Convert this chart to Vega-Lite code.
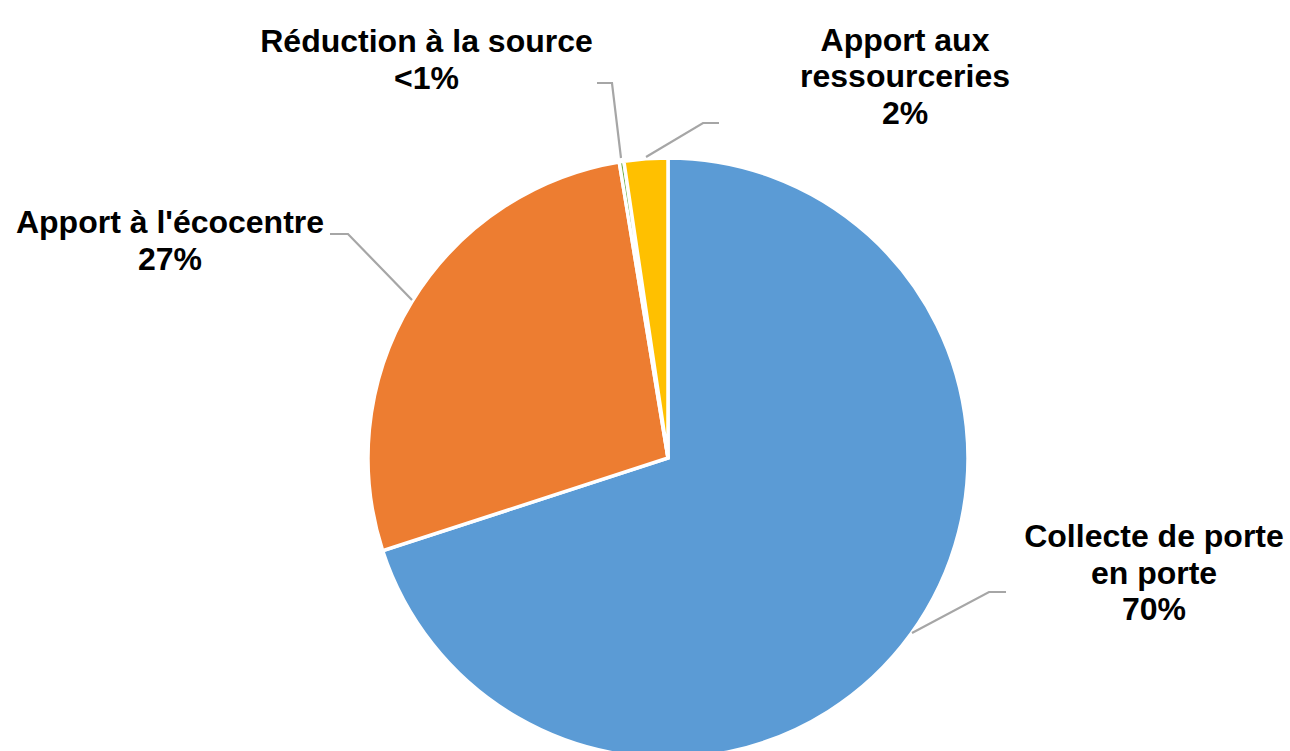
{
  "$schema": "https://vega.github.io/schema/vega-lite/v6.json",
  "width": 600,
  "height": 586,
  "autosize": {"type": "none"},
  "padding": {"left": 368, "top": 165, "right": 322, "bottom": 0},
  "background": "white",
  "config": {"view": {"stroke": null}},
  "datasets": {
    "slices": [
      {"categorie": "Collecte de porte en porte", "part": 70.0, "rang": 1},
      {"categorie": "Apport à l'écocentre", "part": 27.4, "rang": 2},
      {"categorie": "Réduction à la source", "part": 0.25, "rang": 3},
      {"categorie": "Apport aux ressourceries", "part": 2.35, "rang": 4}
    ],
    "labels": [
      {"texte": "Collecte de porte\nen porte\n70%", "u": 1.62, "v": -0.2967},
      {"texte": "Apport à l'écocentre\n27%", "u": -1.66, "v": 0.75},
      {"texte": "Réduction à la source\n<1%", "u": -0.805, "v": 1.353},
      {"texte": "Apport aux\nressourceries\n2%", "u": 0.79, "v": 1.3567}
    ],
    "leaders": [
      {"id": "a", "i": 1, "u": 0.8133, "v": -0.5833},
      {"id": "a", "i": 2, "u": 1.07, "v": -0.4467},
      {"id": "a", "i": 3, "u": 1.1267, "v": -0.4467},
      {"id": "b", "i": 1, "u": -0.8533, "v": 0.5267},
      {"id": "b", "i": 2, "u": -1.0667, "v": 0.7467},
      {"id": "b", "i": 3, "u": -1.1267, "v": 0.7467},
      {"id": "c", "i": 1, "u": -0.1567, "v": 1.0},
      {"id": "c", "i": 2, "u": -0.1867, "v": 1.25},
      {"id": "c", "i": 3, "u": -0.2367, "v": 1.25},
      {"id": "d", "i": 1, "u": -0.0733, "v": 1.0033},
      {"id": "d", "i": 2, "u": 0.1167, "v": 1.1167},
      {"id": "d", "i": 3, "u": 0.17, "v": 1.1167}
    ]
  },
  "layer": [
    {
      "data": {"name": "slices"},
      "mark": {"type": "arc", "radius": 300, "stroke": "white", "strokeWidth": 3.5},
      "encoding": {
        "theta": {"field": "part", "type": "quantitative", "stack": true},
        "color": {
          "field": "categorie",
          "type": "nominal",
          "scale": {
            "domain": ["Collecte de porte en porte", "Apport à l'écocentre", "Réduction à la source", "Apport aux ressourceries"],
            "range": ["#5B9BD5", "#ED7D31", "#70AD47", "#FFC000"]
          },
          "legend": null
        },
        "order": {"field": "rang", "type": "quantitative"}
      }
    },
    {
      "data": {"name": "leaders"},
      "mark": {"type": "line", "color": "#A6A6A6", "strokeWidth": 2.2},
      "encoding": {
        "x": {"field": "u", "type": "quantitative", "scale": {"domain": [-1, 1], "nice": false, "zero": false}, "axis": null},
        "y": {"field": "v", "type": "quantitative", "scale": {"domain": [-0.97667, 0.97667], "nice": false, "zero": false}, "axis": null},
        "detail": {"field": "id"},
        "order": {"field": "i", "type": "quantitative"}
      }
    },
    {
      "data": {"name": "labels"},
      "mark": {
        "type": "text",
        "font": "Liberation Sans",
        "fontWeight": "bold",
        "fontSize": 32,
        "lineHeight": 36.5,
        "lineBreak": "\n",
        "align": "center",
        "baseline": "alphabetic",
        "color": "black"
      },
      "encoding": {
        "x": {"field": "u", "type": "quantitative"},
        "y": {"field": "v", "type": "quantitative"},
        "text": {"field": "texte"}
      }
    }
  ]
}
